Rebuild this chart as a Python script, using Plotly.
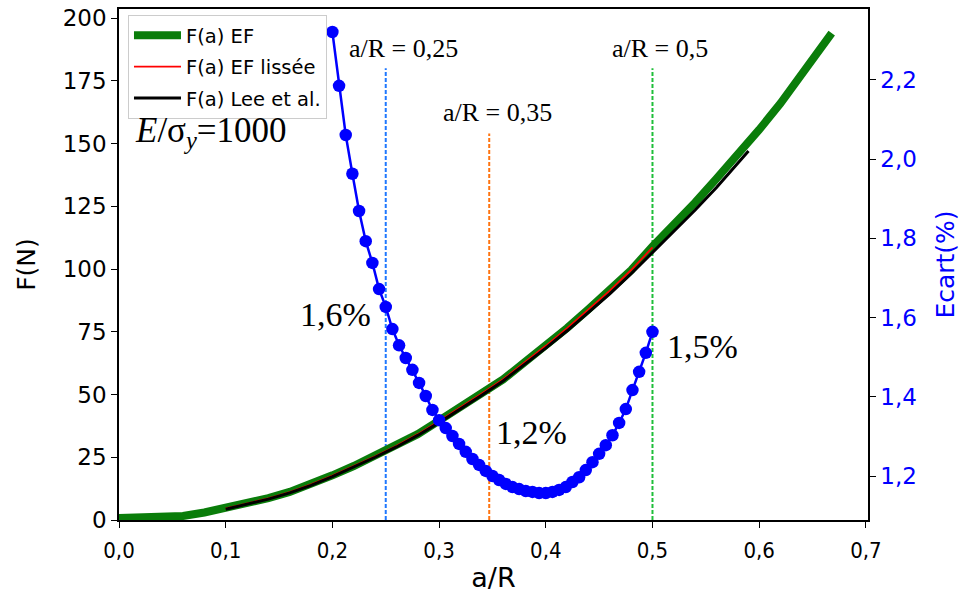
import plotly.graph_objects as go

# ---- data ----
ef_x = [0.00, 0.02, 0.04, 0.06, 0.08, 0.10, 0.12, 0.14, 0.16, 0.18, 0.20, 0.22, 0.24, 0.26, 0.28,
        0.30, 0.32, 0.34, 0.36, 0.38, 0.40, 0.42, 0.44, 0.46, 0.48, 0.50, 0.52, 0.54, 0.56, 0.58,
        0.60, 0.62, 0.64, 0.66, 0.668]
ef_f = [0.8, 0.9, 1.1, 1.6, 3.0, 4.7, 6.6, 8.7, 11.2, 14.3, 17.8, 21.5, 25.5, 29.5, 34.2,
        39.6, 44.8, 50.5, 56.0, 62.8, 69.5, 76.5, 84.0, 91.5, 99.5, 109.0, 117.5, 126.5, 136.0, 145.5,
        155.5, 166.0, 177.5, 189.0, 194.0]

smooth_x = [0.10, 0.12, 0.14, 0.16, 0.18, 0.20, 0.22, 0.24, 0.26, 0.28, 0.30, 0.32, 0.34, 0.36,
            0.38, 0.40, 0.42, 0.44, 0.46, 0.48, 0.50]
smooth_f = [4.6, 6.5, 8.6, 11.1, 14.2, 17.7, 21.4, 25.4, 29.6, 34.2, 39.4, 44.8, 50.4, 56.1,
            62.7, 69.4, 76.4, 83.8, 91.4, 99.6, 108.6]

lee_x = [0.10, 0.12, 0.14, 0.16, 0.18, 0.20, 0.22, 0.24, 0.26, 0.28, 0.30, 0.32, 0.34, 0.36,
         0.38, 0.40, 0.42, 0.44, 0.46, 0.48, 0.50, 0.52, 0.54, 0.56, 0.58, 0.59]
lee_f = [4.3, 6.2, 8.3, 10.8, 13.8, 17.3, 21.0, 25.0, 29.1, 33.7, 38.8, 44.1, 49.7, 55.4,
         61.9, 68.5, 75.4, 82.6, 90.1, 98.1, 106.6, 115.0, 123.5, 132.5, 142.0, 147.0]

ecart_x = [0.20000, 0.20625, 0.21250, 0.21875, 0.22500, 0.23125, 0.23750, 0.24375, 0.25000,
           0.25625, 0.26250, 0.26875, 0.27500, 0.28125, 0.28750, 0.29375, 0.30000, 0.30625,
           0.31250, 0.31875, 0.32500, 0.33125, 0.33750, 0.34375, 0.35000, 0.35625, 0.36250,
           0.36875, 0.37500, 0.38125, 0.38750, 0.39375, 0.40000, 0.40625, 0.41250, 0.41875,
           0.42500, 0.43125, 0.43750, 0.44375, 0.45000, 0.45625, 0.46250, 0.46875, 0.47500,
           0.48125, 0.48750, 0.49375, 0.50000]
ecart_y = [2.321, 2.185, 2.061, 1.963, 1.869, 1.793, 1.738, 1.672, 1.627,
           1.571, 1.530, 1.498, 1.468, 1.435, 1.402, 1.367, 1.341, 1.321,
           1.301, 1.281, 1.261, 1.243, 1.228, 1.213, 1.200, 1.190, 1.180,
           1.172, 1.167, 1.162, 1.160, 1.157, 1.157, 1.160, 1.165, 1.172,
           1.185, 1.197, 1.215, 1.235, 1.256, 1.278, 1.303, 1.334, 1.369,
           1.417, 1.463, 1.511, 1.564]

vlines_x = [0.25, 0.347, 0.5]
vlines_top = [180, 154, 180]
vlines_color = ["#1f78ff", "#ff7410", "#1fbf3a"]
vlines_label = ["a/R = 0,25", "a/R = 0,35", "a/R = 0,5"]
vlabel_pos = [(0.2664, 188.0), (0.3551, 162.5), (0.5075, 188.0)]

pct_labels = ["1,6%", "1,2%", "1,5%"]
pct_pos = [(0.2028, 1.607), (0.3869, 1.309), (0.5467, 1.526)]

x_ticks = [0.0, 0.1, 0.2, 0.3, 0.4, 0.5, 0.6, 0.7]
y_ticks = [0, 25, 50, 75, 100, 125, 150, 175, 200]
y2_ticks = [1.2, 1.4, 1.6, 1.8, 2.0, 2.2]

# ---- figure ----
fig = go.Figure()

for vx, vt, vc in zip(vlines_x, vlines_top, vlines_color):
    fig.add_trace(go.Scatter(x=[vx, vx], y=[0, vt], mode="lines", showlegend=False,
                             line=dict(color=vc, width=2, dash="4px,2px"), hoverinfo="skip"))

fig.add_trace(go.Scatter(x=ef_x, y=ef_f, mode="lines", name="F(a) EF", legendgroup="a",
                         line=dict(color="#0a7d0a", width=8)))
fig.add_trace(go.Scatter(x=smooth_x, y=smooth_f, mode="lines", name="F(a) EF lissée", legendgroup="b",
                         line=dict(color="#ff0000", width=1.8)))
fig.add_trace(go.Scatter(x=lee_x, y=lee_f, mode="lines", name="F(a) Lee et al.", legendgroup="c",
                         line=dict(color="#000000", width=3)))
fig.add_trace(go.Scatter(x=ecart_x, y=ecart_y, mode="lines+markers", showlegend=False,
                         line=dict(color="#0000ff", width=2.5),
                         marker=dict(color="#0000ff", size=12.5), yaxis="y2"))

serif = "Liberation Serif, Times New Roman, serif"
ann = []
for (lx, ly), txt in zip(vlabel_pos, vlines_label):
    ann.append(dict(x=lx, y=ly, xref="x", yref="y", text=txt, showarrow=False,
                    font=dict(family=serif, size=26, color="black")))
for (px, py), txt in zip(pct_pos, pct_labels):
    ann.append(dict(x=px, y=py, xref="x", yref="y2", text=txt, showarrow=False,
                    font=dict(family=serif, size=34, color="black")))
ann.append(dict(x=0.086, y=154.2, xref="x", yref="y",
                text="<i>E</i>/σ<sub><i>y</i></sub>=1000", showarrow=False,
                font=dict(family=serif, size=35, color="black")))

fig.update_layout(
    width=960, height=596,
    margin=dict(l=119, r=92, t=9, b=76, autoexpand=False),
    paper_bgcolor="white", plot_bgcolor="white",
    separators=", ",
    annotations=ann,
    showlegend=True,
    legend=dict(x=0.012, y=0.988, xanchor="left", yanchor="top",
                bgcolor="white", bordercolor="#cccccc", borderwidth=1,
                font=dict(family="DejaVu Sans", size=19.5, color="black"),
                tracegroupgap=3, itemwidth=47),
    xaxis=dict(range=[0, 0.702], tickvals=x_ticks, tickformat=".1f",
               showline=True, linecolor="black", linewidth=1.5, mirror=True,
               ticks="outside", ticklen=6, tickcolor="black", showgrid=False, zeroline=False,
               ticklabelstandoff=4,
               tickfont=dict(family="DejaVu Sans Condensed", size=22, color="black"),
               title=dict(text="a/R", font=dict(family="DejaVu Sans", size=27, color="black"),
                          standoff=6)),
    yaxis=dict(range=[0, 203.6], tickvals=y_ticks, ticklabeloverflow="allow",
               showline=True, linecolor="black", linewidth=1.5,
               ticks="outside", ticklen=6, tickcolor="black", showgrid=False, zeroline=False,
               tickfont=dict(family="DejaVu Sans", size=23, color="black"),
               title=dict(text="F(N)", font=dict(family="DejaVu Sans", size=25, color="black"),
                          standoff=20)),
    yaxis2=dict(range=[1.089, 2.379], tickvals=y2_ticks, tickformat=".1f",
                overlaying="y", side="right", ticklabeloverflow="allow",
                showline=True, linecolor="black", linewidth=1.5,
                ticks="outside", ticklen=6, tickcolor="black", showgrid=False, zeroline=False,
                tickfont=dict(family="DejaVu Sans", size=23, color="#0000ff"),
                title=dict(text="Ecart(%)", font=dict(family="DejaVu Sans", size=25, color="#0000ff"),
                           standoff=21)),
)

fig.write_html("out.html", config={"displayModeBar": False},
               post_script="document.body.style.margin='0';")
